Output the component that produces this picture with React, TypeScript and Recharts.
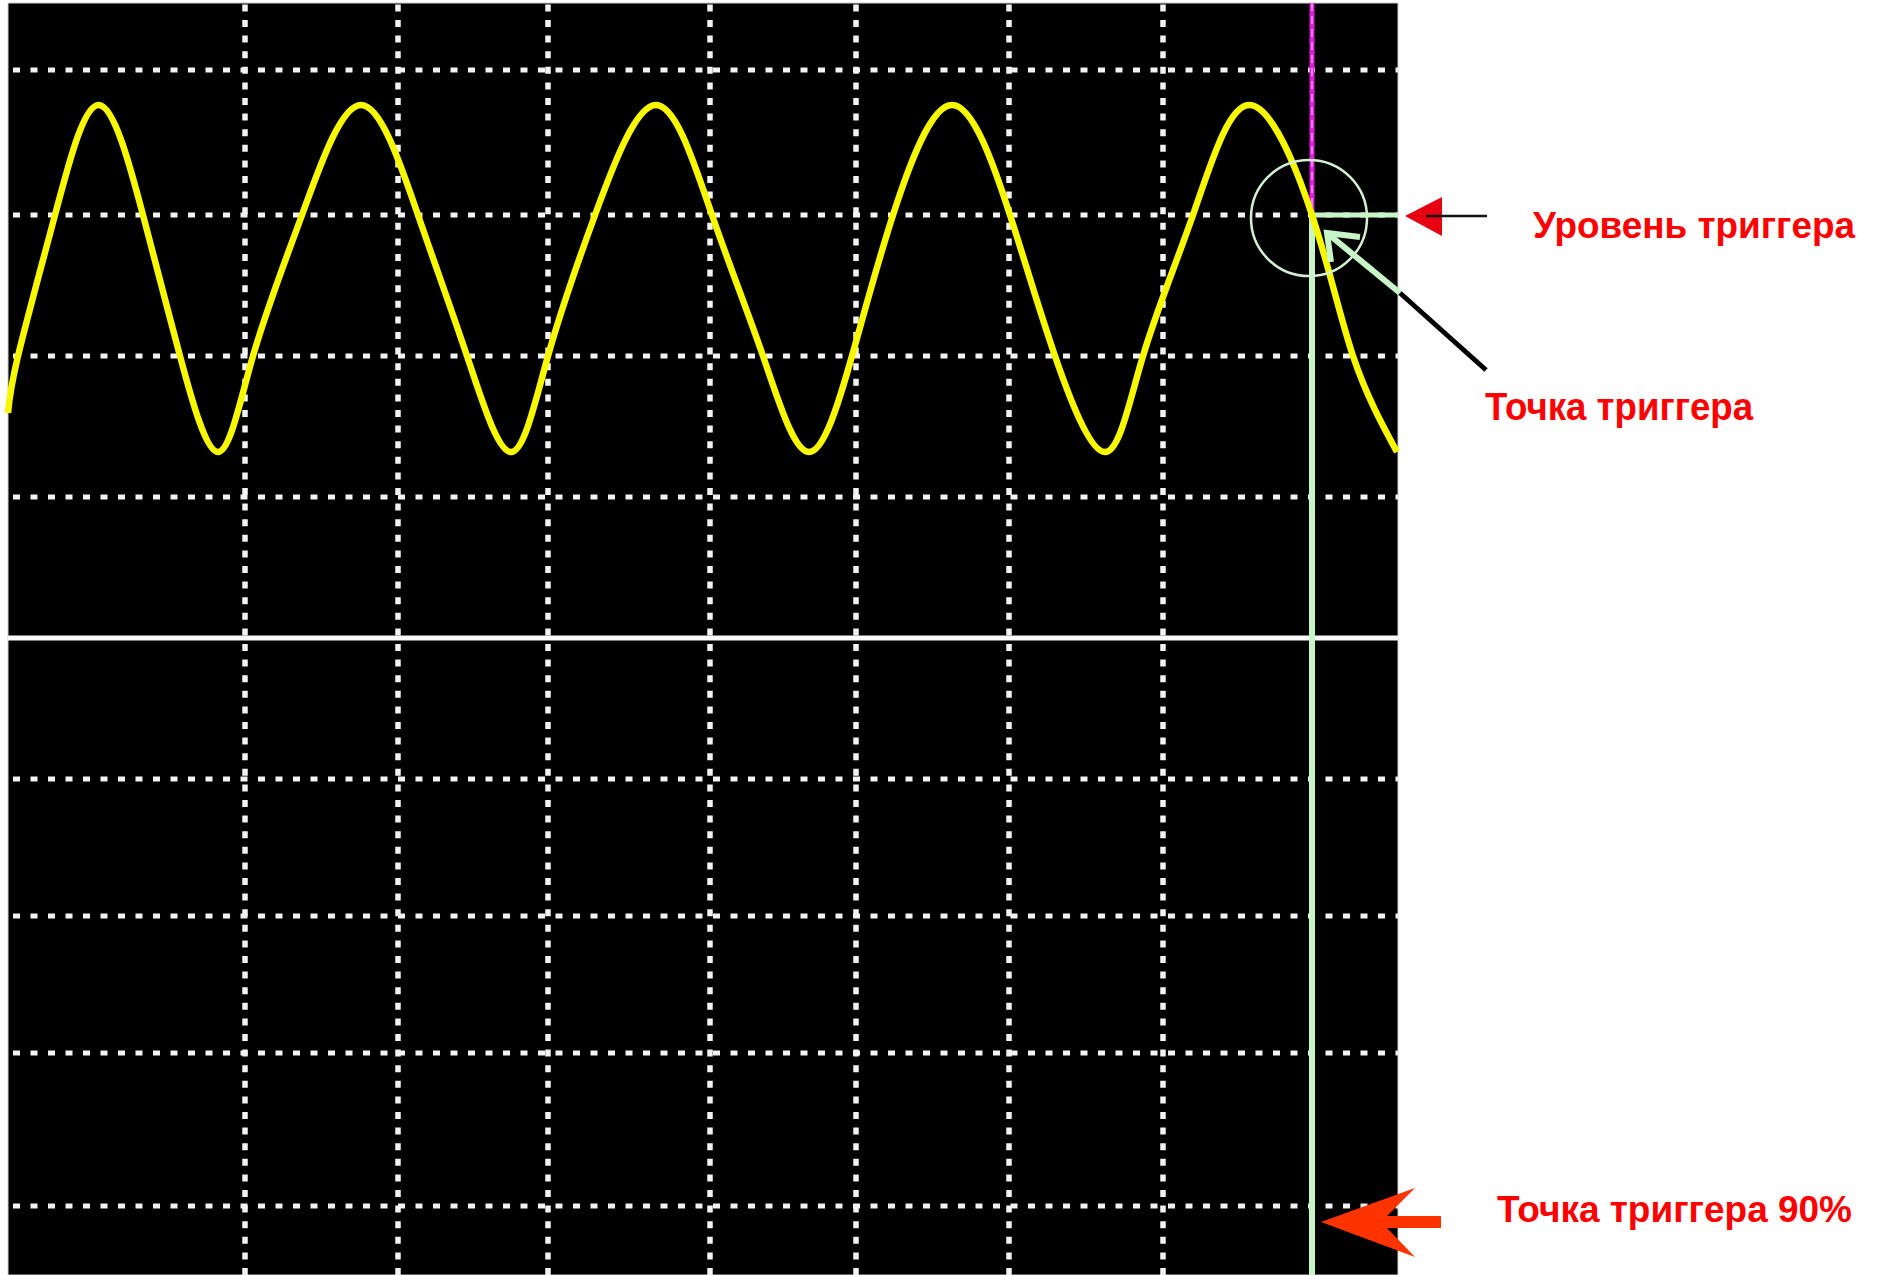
import { LineChart, Line, XAxis, YAxis, ReferenceLine, ReferenceArea, ReferenceDot } from 'recharts';

// time axis in samples, voltage axis in counts (0 = centre line)
const TIME = [0, 10, 47, 91, 135, 172, 210, 245, 294, 353, 410, 459, 503, 540, 587, 648, 704, 755, 801, 844, 885, 944, 1002, 1047, 1097, 1135, 1185, 1241, 1304, 1345, 1389];
const SIGNAL = [225, 282, 423, 533, 423, 282, 186, 282, 423, 533, 423, 282, 186, 282, 423, 533, 423, 282, 186, 282, 423, 533, 423, 282, 186, 282, 423, 533, 423, 282, 186];

const X_DOMAIN = [0, 1390];
const Y_DOMAIN = [-637, 635];
const X_GRID = [237, 390, 540, 702, 848, 1001, 1155];
const Y_GRID = [568, 423, 282, 141, -141, -278, -415, -568];

const TRIGGER_TIME = 1304;
const TRIGGER_LEVEL = 423;

const LABEL_LEVEL = 'Уровень триггера';
const LABEL_POINT = 'Точка триггера';
const LABEL_POINT_90 = 'Точка триггера 90%';

const data = TIME.map((t, i) => ({ t, v: SIGNAL[i] }));

const GREEN = '#c8f5c8';
const DOT_WHITE = '#f2f2f2';

const labelFont = { fontFamily: '"Liberation Sans", Arial, sans-serif', fontWeight: 700, fill: '#ff0000' };

export default function App() {
  return (
    <div style={{ position: 'absolute', left: 0, top: 0, width: 1882, height: 1275, background: '#fff', overflow: 'hidden' }}>
      <LineChart width={1882} height={1275} data={data} margin={{ top: 3, left: 8, right: 484, bottom: 0 }}>
        <XAxis type="number" dataKey="t" domain={X_DOMAIN} hide />
        <YAxis type="number" domain={Y_DOMAIN} hide />
        <ReferenceArea x1={X_DOMAIN[0]} x2={X_DOMAIN[1]} y1={Y_DOMAIN[0]} y2={Y_DOMAIN[1]} fill="#000" fillOpacity={1} stroke="#cfcfcf" strokeWidth={1} />
        {Y_GRID.map((y) => (
          <ReferenceLine key={'h' + y} y={y} stroke={DOT_WHITE} strokeWidth={5} strokeDasharray="7 10.5" strokeDashoffset={-5} />
        ))}
        {X_GRID.map((x) => (
          <ReferenceLine key={'v' + x} x={x} stroke={DOT_WHITE} strokeWidth={5.5} strokeDasharray="7 8.6" />
        ))}
        <ReferenceLine y={0} stroke="#fafafa" strokeWidth={5} />
        <ReferenceLine segment={[{ x: TRIGGER_TIME, y: Y_DOMAIN[1] }, { x: TRIGGER_TIME, y: TRIGGER_LEVEL }]} stroke="#e01ee0" strokeWidth={5} />
        <ReferenceLine segment={[{ x: TRIGGER_TIME, y: Y_DOMAIN[1] }, { x: TRIGGER_TIME, y: TRIGGER_LEVEL }]} stroke="#ff9cff" strokeWidth={1.5} strokeDasharray="8 5" />
        <ReferenceLine segment={[{ x: TRIGGER_TIME, y: TRIGGER_LEVEL }, { x: X_DOMAIN[1], y: TRIGGER_LEVEL }]} stroke={GREEN} strokeWidth={5} />
        <ReferenceLine segment={[{ x: TRIGGER_TIME, y: TRIGGER_LEVEL }, { x: TRIGGER_TIME, y: Y_DOMAIN[0] }]} stroke={GREEN} strokeWidth={6} />
        <ReferenceDot x={TRIGGER_TIME - 3} y={TRIGGER_LEVEL - 3} r={58} fill="none" stroke="#d2f0d2" strokeWidth={2.5} />
        <Line type="natural" dataKey="v" stroke="#f7f700" strokeWidth={6.5} dot={false} activeDot={false} isAnimationActive={false} />
      </LineChart>

      <svg width={1882} height={1275} style={{ position: 'absolute', left: 0, top: 0, pointerEvents: 'none' }}>
        {/* trigger level marker */}
        <polygon points="1405,216 1442,197 1442,236" fill="#e60012" />
        <line x1={1426} y1={216} x2={1487} y2={216} stroke="#111" strokeWidth={2.5} />
        {/* trigger point pointer */}
        <line x1={1327} y1={233} x2={1400} y2={293} stroke={GREEN} strokeWidth={6} />
        <polyline points="1331,262 1327,233 1360,237" fill="none" stroke={GREEN} strokeWidth={6} />
        <line x1={1400} y1={293} x2={1486} y2={370} stroke="#000" strokeWidth={5} />
        {/* 90% marker */}
        <polygon points="1321,1222 1415,1188 1387,1216 1441,1216 1441,1228 1387,1228 1415,1257" fill="#ff3300" />

        <text x={1533} y={238} fontSize={36} textLength={322} lengthAdjust="spacingAndGlyphs" {...labelFont}>{LABEL_LEVEL}</text>
        <text x={1485} y={420} fontSize={38} textLength={268} lengthAdjust="spacingAndGlyphs" {...labelFont}>{LABEL_POINT}</text>
        <text x={1497} y={1222} fontSize={37} textLength={355} lengthAdjust="spacingAndGlyphs" {...labelFont}>{LABEL_POINT_90}</text>
      </svg>
    </div>
  );
}
